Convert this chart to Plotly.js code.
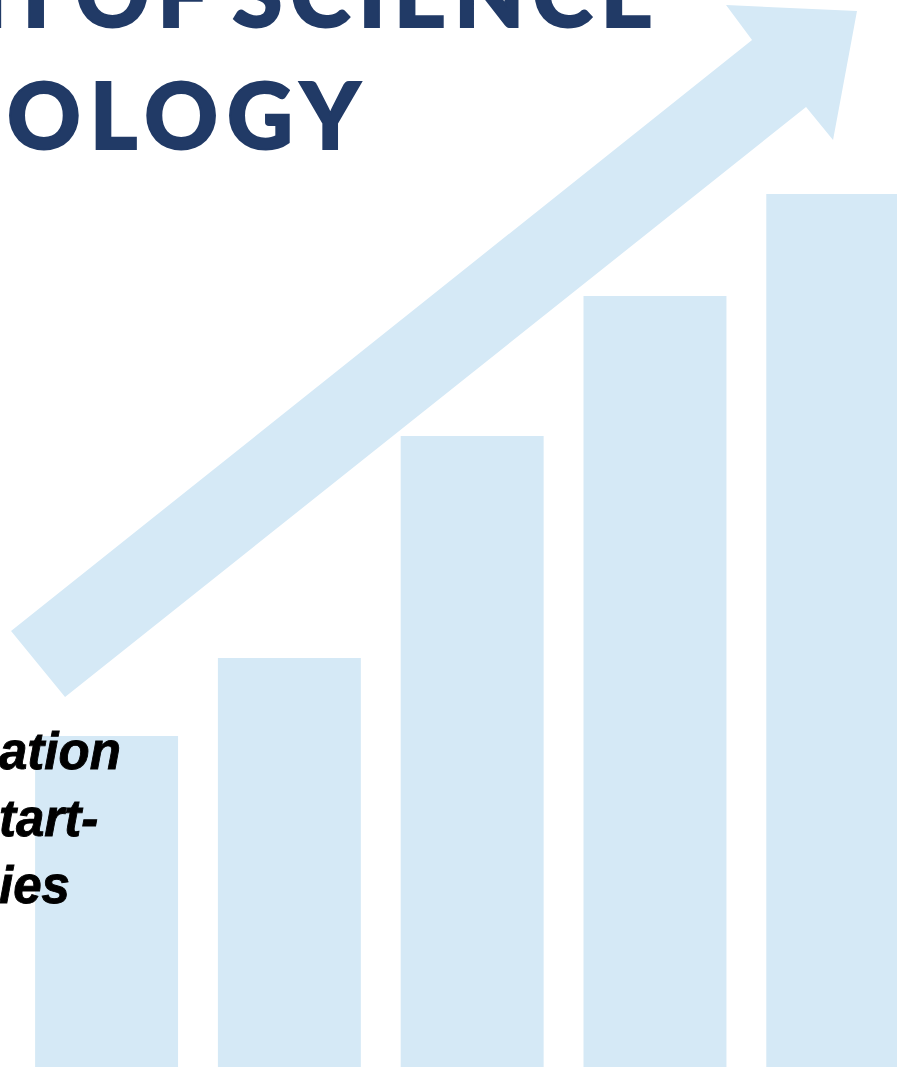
<!DOCTYPE html>
<html>
<head>
<meta charset="utf-8">
<script src="https://cdn.plot.ly/plotly-3.0.1.min.js"></script>
<style>html,body{margin:0;padding:0;background:#fff;}#chart{width:897px;height:1067px;}</style>
</head>
<body>
<div id="chart"></div>
<script>
// Data
const categories = ['Stage 1', 'Stage 2', 'Stage 3', 'Stage 4', 'Stage 5'];
const values = [33.1, 40.9, 63.1, 77.1, 87.3];
const titleLines = ['GROWTH OF SCIENCE', 'AND TECHNOLOGY'];
const sideLines = ['ation', 'tart-', 'ies'];

const W = 897, H = 1067;
const barColor = '#D5E9F6';
const navy = '#213A66';

// decorative arrow outline (pixel space of the picture)
const arrowPx = [[11,631],[752,40],[726,5],[857,11],[833,140],[806,107],[65,697]];
const path = arrowPx.map((p, i) => (i ? 'L' : 'M') + (p[0] / W).toFixed(4) + ',' + (1 - p[1] / H).toFixed(4)).join(' ') + ' Z';

const trace = {
  type: 'bar',
  x: categories,
  y: values,
  width: 0.782,
  marker: {color: barColor, line: {width: 0}},
  hoverinfo: 'skip'
};

const titleFont = {family: 'Lato, "DejaVu Sans", sans-serif', size: 91, color: navy, weight: 900};
const annotations = [
  {text: '<span style="letter-spacing:8px;word-spacing:-12px;stroke:' + navy + ';stroke-width:2px">' + titleLines[0] + '</span>', x: 663 / W, y: 1 - 48 / H},
  {text: '<span style="letter-spacing:9px;stroke:' + navy + ';stroke-width:2px">' + titleLines[1] + '</span>', x: 371 / W, y: 1 - 170 / H}
].map(a => Object.assign({
  xref: 'paper', yref: 'paper', xanchor: 'right', yanchor: 'bottom', showarrow: false, font: titleFont
}, a));

sideLines.forEach((t, i) => {
  annotations.push({
    text: '<i><b><span style="stroke:#000;stroke-width:0.9px">' + t + '</span></b></i>', xref: 'paper', yref: 'paper', x: -3 / W, y: 1 - (782 + i * 67) / H,
    xanchor: 'left', yanchor: 'bottom', showarrow: false,
    font: {family: '"Liberation Sans", Arial, sans-serif', size: 51, color: '#000'}
  });
});

const layout = {
  width: W, height: H,
  margin: {l: 0, r: 0, t: 0, b: 0, pad: 0},
  paper_bgcolor: '#fff', plot_bgcolor: '#fff',
  showlegend: false,
  xaxis: {visible: false, range: [-0.583, 4.324], fixedrange: true},
  yaxis: {visible: false, range: [0, 106.7], fixedrange: true},
  shapes: [{type: 'path', xref: 'paper', yref: 'paper', path: path, fillcolor: barColor, line: {width: 0}, layer: 'above'}],
  annotations: annotations
};

Plotly.newPlot('chart', [trace], layout, {staticPlot: true, displayModeBar: false});
</script>
</body>
</html>
